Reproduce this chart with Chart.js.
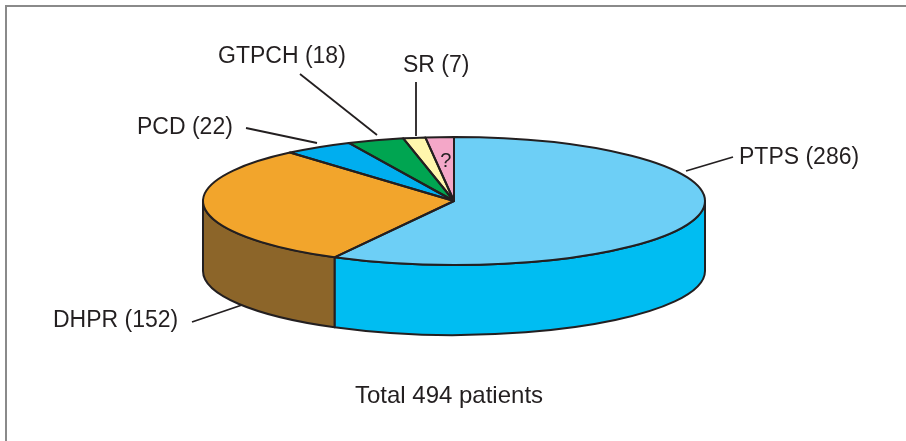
<!DOCTYPE html>
<html>
<head>
<meta charset="utf-8">
<script src="https://cdn.jsdelivr.net/npm/chart.js@4"></script>
<style>
  html, body { margin: 0; padding: 0; background: #fff; }
  .frame { position: absolute; left: 5px; top: 5px; width: 901px; height: 436px;
           border-left: 2px solid #8a8a8a; border-top: 2px solid #8a8a8a; }
  canvas { position: absolute; left: 0; top: 0; }
</style>
</head>
<body>
<div class="frame"></div>
<canvas id="pie" width="906" height="441"></canvas>
<script>
const labels = ["PTPS", "DHPR", "PCD", "GTPCH", "SR", "?"];
const values = [286, 152, 22, 18, 7, 9];
const topColors = ["#6dcff6", "#f2a52c", "#00aeef", "#00a551", "#fff7ad", "#f4a7c8"];
const sideColors = ["#00bdf2", "#8c6529", "#0090c8", "#007a3c", "#d8cf80", "#c8829f"];
const totalText = "Total 494 patients";

const INK = "#231f20";
const TILT = 64 / 251;
const DEPTH = 70;
const FONT = '"Liberation Sans", Arial, Helvetica, sans-serif';

// label text position (left, baseline) and leader line, per slice; null = no outside label
const labelLayout = [
  { x: 739, y: 164, line: [686, 171, 733, 157] },
  { x: 53, y: 327, line: [192, 322, 242, 305] },
  { x: 137, y: 134, line: [246, 128, 317, 143] },
  { x: 218, y: 63, line: [300, 74, 377, 135] },
  { x: 403, y: 72, line: [416, 82, 416, 136] },
  null,
];

const pie3d = {
  id: "pie3d",
  beforeDatasetsDraw(chart) {
    const ctx = chart.ctx;
    const arcs = chart.getDatasetMeta(0).data;
    const { x: cx, y: cy, outerRadius: rx } = arcs[0];
    const ry = rx * TILT;
    // side walls of the front half
    ctx.save();
    ctx.lineWidth = 2;
    ctx.strokeStyle = INK;
    ctx.lineJoin = "round";
    arcs.forEach((a, i) => {
      const a0 = Math.max(a.startAngle, 0);
      const a1 = Math.min(a.endAngle, Math.PI);
      if (a0 >= a1) return;
      ctx.beginPath();
      ctx.ellipse(cx, cy, rx, ry, 0, a0, a1);
      ctx.lineTo(cx + rx * Math.cos(a1), cy + ry * Math.sin(a1) + DEPTH);
      ctx.ellipse(cx, cy + DEPTH, rx, ry, 0, a1, a0, true);
      ctx.closePath();
      ctx.fillStyle = sideColors[i];
      ctx.fill();
      ctx.stroke();
    });
    ctx.restore();
    // squash the library's round pie into the top ellipse
    ctx.save();
    ctx.translate(cx, cy);
    ctx.scale(1, TILT);
    ctx.translate(-cx, -cy);
  },
  afterDatasetsDraw(chart) {
    const ctx = chart.ctx;
    ctx.restore();
    const arcs = chart.getDatasetMeta(0).data;
    const { x: cx, y: cy, outerRadius: rx } = arcs[0];
    const ry = rx * TILT;
    ctx.save();
    ctx.lineWidth = 2;
    ctx.strokeStyle = INK;
    ctx.lineJoin = "round";
    arcs.forEach((a) => {
      ctx.beginPath();
      ctx.moveTo(cx, cy);
      ctx.lineTo(cx + rx * Math.cos(a.startAngle), cy + ry * Math.sin(a.startAngle));
      ctx.ellipse(cx, cy, rx, ry, 0, a.startAngle, a.endAngle);
      ctx.closePath();
      ctx.stroke();
    });
    // labels and leader lines
    ctx.fillStyle = INK;
    ctx.textBaseline = "alphabetic";
    ctx.font = "23px " + FONT;
    ctx.lineWidth = 1.8;
    labelLayout.forEach((l, i) => {
      if (!l) return;
      ctx.textAlign = "left";
      ctx.fillText(`${labels[i]} (${values[i]})`, l.x, l.y);
      ctx.beginPath();
      ctx.moveTo(l.line[0], l.line[1]);
      ctx.lineTo(l.line[2], l.line[3]);
      ctx.stroke();
    });
    // the unlabelled slice gets its mark inside
    const q = arcs[5];
    const mid = (q.startAngle + q.endAngle) / 2;
    ctx.textAlign = "center";
    ctx.font = "20px " + FONT;
    ctx.fillText(labels[5], cx + rx * 0.5 * Math.cos(mid) - 1, cy + ry * 0.62 * Math.sin(mid) + 6);
    ctx.font = "24px " + FONT;
    ctx.fillText(totalText, 449, 403);
    ctx.restore();
  },
};

new Chart(document.getElementById("pie"), {
  type: "pie",
  data: {
    labels: labels,
    datasets: [{
      data: values,
      backgroundColor: topColors,
      borderWidth: 0,
      radius: 251,
      clip: false,
    }],
  },
  options: {
    responsive: false,
    animation: false,
    layout: { padding: { left: 200, right: 198, top: 100, bottom: 139 } },
    plugins: { legend: { display: false }, tooltip: { enabled: false } },
    events: [],
  },
  plugins: [pie3d],
});
</script>
</body>
</html>
